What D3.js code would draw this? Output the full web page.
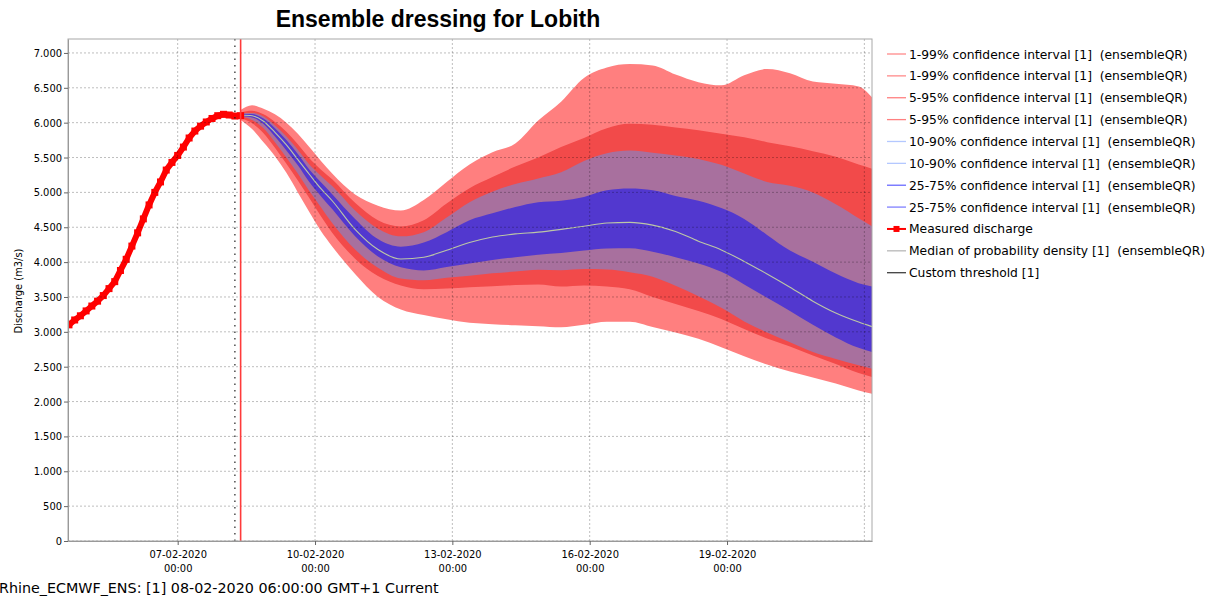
<!DOCTYPE html>
<html><head><meta charset="utf-8">
<script src="https://cdn.jsdelivr.net/npm/d3@7"></script>
<style>
body{margin:0;background:#fff;overflow:hidden;}
svg{display:block;}
text{font-family:"DejaVu Sans Condensed","DejaVu Sans",sans-serif;fill:#000;}
</style></head><body>
<svg id="c" width="1210" height="599"></svg>
<script>
// ---------- DATA ----------
const titleText = "Ensemble dressing for Lobith";
const yAxisLabel = "Discharge (m3/s)";
const footerText = "Rhine_ECMWF_ENS: [1] 08-02-2020 06:00:00 GMT+1 Current";
const yTickValues = [0,500,1000,1500,2000,2500,3000,3500,4000,4500,5000,5500,6000,6500,7000];
const xTickDays = ["2020-02-07","2020-02-10","2020-02-13","2020-02-16","2020-02-19"];
const xGridDays = ["2020-02-07","2020-02-10","2020-02-13","2020-02-16","2020-02-19","2020-02-22"];

// hours relative to forecast start 08-02-2020 09:00
const measuredHours = [-90,-87,-84,-81,-78,-75,-72,-69,-66,-63,-60,-57,-54,-51,-48,-45,-42,-39,-36,-33,-30,-27,-24,-21,-18,-15,-12,-9,-6,-3,0];
const measured = [3100,3170,3230,3300,3370,3440,3520,3620,3720,3880,4040,4230,4420,4620,4820,5000,5150,5320,5430,5530,5650,5780,5880,5950,6010,6060,6100,6120,6110,6095,6100];

const fcHours = [0,6,12,18,24,30,36,42,48,60,72,84,96,108,120,132,144,156,168,180,192,204,216,228,240,252,264,276,288,300,312,324,331];
const q99 = [6180,6250,6200,6120,6000,5840,5650,5455,5270,4970,4810,4740,4890,5150,5400,5575,5700,6030,6300,6640,6790,6840,6820,6690,6580,6535,6680,6770,6710,6590,6558,6520,6365];
const q95 = [6150,6170,6120,6010,5870,5690,5490,5330,5190,4850,4600,4510,4600,4840,5060,5220,5370,5500,5650,5780,5920,5985,5970,5930,5890,5840,5790,5720,5660,5590,5510,5400,5340];
const q90 = [6135,6140,6090,5960,5800,5610,5400,5240,5090,4740,4480,4370,4430,4640,4860,5010,5120,5200,5290,5450,5560,5600,5570,5530,5480,5395,5270,5150,5095,5000,4830,4630,4514];
const q75 = [6125,6125,6060,5920,5750,5550,5330,5150,4975,4620,4330,4220,4280,4430,4600,4700,4790,4860,4880,4935,5030,5055,5030,4950,4880,4775,4620,4390,4165,4005,3835,3697,3649];
const q50 = [6110,6100,6020,5860,5680,5470,5260,5057,4880,4470,4180,4045,4070,4170,4280,4360,4405,4430,4470,4515,4560,4570,4530,4440,4300,4175,4010,3830,3640,3440,3270,3140,3075];
const q25 = [6095,6075,5980,5800,5600,5390,5150,4950,4760,4370,4080,3925,3880,3930,3980,4030,4070,4105,4130,4165,4195,4200,4150,4070,3980,3860,3680,3490,3300,3100,2920,2770,2711];
const q10 = [6085,6040,5920,5720,5500,5270,5020,4790,4560,4180,3920,3765,3740,3775,3805,3840,3865,3890,3885,3900,3895,3855,3790,3660,3510,3345,3150,2990,2850,2710,2610,2520,2471];
const q5  = [6070,5990,5850,5640,5410,5170,4920,4660,4420,4050,3800,3665,3610,3620,3640,3655,3670,3680,3650,3665,3650,3610,3500,3400,3300,3185,3040,2905,2790,2660,2540,2410,2352];
const q1  = [6040,5910,5720,5520,5280,5000,4720,4450,4225,3830,3500,3320,3240,3180,3130,3110,3095,3080,3065,3100,3145,3145,3070,2990,2900,2780,2650,2530,2430,2345,2260,2160,2112];

const legendLabels = [
  "1-99% confidence interval [1]  (ensembleQR)",
  "1-99% confidence interval [1]  (ensembleQR)",
  "5-95% confidence interval [1]  (ensembleQR)",
  "5-95% confidence interval [1]  (ensembleQR)",
  "10-90% confidence interval [1]  (ensembleQR)",
  "10-90% confidence interval [1]  (ensembleQR)",
  "25-75% confidence interval [1]  (ensembleQR)",
  "25-75% confidence interval [1]  (ensembleQR)",
  "Measured discharge",
  "Median of probability density [1]  (ensembleQR)",
  "Custom threshold [1]"];
const legendColors = ["#ff8a8a","#ff8a8a","#ff8080","#ff8080","#b4c8ff","#b4c8ff","#6a6aff","#8080ff","#ff0000","#b8b8b8","#404040"];

// ---------- CHART ----------
const svg = d3.select("#c");
const L = 68, R = 872, T = 39, B = 541;
const T0 = new Date(2020,1,8,9,0);
const toDate = h => new Date(T0.getTime() + h*3600e3);
const parseDay = s => { const p = s.split("-").map(Number); return new Date(p[0], p[1]-1, p[2]); };

const x = d3.scaleTime().domain([new Date(2020,1,4,14,30), new Date(2020,1,22,4,0)]).range([L, R]);
const y = d3.scaleLinear().domain([0,7200]).range([B, T]);

const loc = d3.formatLocale({decimal:",", thousands:".", grouping:[3], currency:["","€"]});
const fmt = loc.format(",");

svg.append("defs").append("clipPath").attr("id","clip")
  .append("rect").attr("x",L).attr("y",T).attr("width",R-L).attr("height",B-T);

const plot = svg.append("g").attr("clip-path","url(#clip)");

// bands
const bands = [
  {lo:q1, hi:q99, color:"#ff7f7f"},
  {lo:q5, hi:q95, color:"#f24a4a"},
  {lo:q10, hi:q90, color:"#a8709e"},
  {lo:q25, hi:q75, color:"#5238cf"}];
bands.forEach(b => {
  const area = d3.area()
    .x((d,i) => x(toDate(fcHours[i])))
    .y0((d,i) => y(b.lo[i]))
    .y1((d,i) => y(b.hi[i]))
    .curve(d3.curveMonotoneX);
  plot.append("path").datum(fcHours).attr("d", area).attr("fill", b.color);
});
// median
plot.append("path").datum(q50)
  .attr("d", d3.line().x((d,i)=>x(toDate(fcHours[i]))).y(d=>y(d)).curve(d3.curveMonotoneX))
  .attr("fill","none").attr("stroke","#bcc6a6").attr("stroke-width",1.1);

// grid lines (on top, translucent)
const grid = svg.append("g");
grid.selectAll("line.h").data(yTickValues).join("line")
  .attr("x1",L).attr("x2",R).attr("y1",d=>y(d)).attr("y2",d=>y(d))
  .attr("stroke","rgba(0,0,0,0.26)").attr("stroke-dasharray","2,2");
grid.selectAll("line.v").data(xGridDays).join("line")
  .attr("x1",d=>x(parseDay(d))).attr("x2",d=>x(parseDay(d))).attr("y1",T).attr("y2",B)
  .attr("stroke","rgba(0,0,0,0.26)").attr("stroke-dasharray","2,2");

// forecast time markers
const tDot = toDate(-3);
svg.append("line").attr("x1",x(tDot)).attr("x2",x(tDot)).attr("y1",T).attr("y2",B)
  .attr("stroke","#222").attr("stroke-width",1.2).attr("stroke-dasharray","1.5,5");

// measured discharge
const mline = d3.line().x((d,i)=>x(toDate(measuredHours[i]))).y(d=>y(d));
plot.append("path").datum(measured).attr("d", mline)
  .attr("fill","none").attr("stroke","#ff0000").attr("stroke-width",6).attr("stroke-linejoin","round");
plot.selectAll("rect.m").data(measured).join("rect")
  .attr("x",(d,i)=>x(toDate(measuredHours[i]))-3.5).attr("y",d=>y(d)-3.5)
  .attr("width",7).attr("height",7).attr("fill","#ff0000");

svg.append("line").attr("x1",x(T0)).attr("x2",x(T0)).attr("y1",T).attr("y2",B)
  .attr("stroke","#ff3b3b").attr("stroke-width",1.6);

// frame
svg.append("rect").attr("x",L).attr("y",T).attr("width",R-L).attr("height",B-T)
  .attr("fill","none").attr("stroke","#a8a8a8").attr("stroke-width",1);

// axes
const yAxis = svg.append("g").attr("transform",`translate(${L},0)`)
  .call(d3.axisLeft(y).tickValues(yTickValues).tickFormat(fmt).tickSize(4).tickSizeOuter(0));
yAxis.select(".domain").attr("stroke","#999");
yAxis.selectAll(".tick line").attr("stroke","#666");
yAxis.selectAll(".tick text").attr("font-size","11px").attr("fill","#222").attr("x",-6);

const xAxis = svg.append("g").attr("transform",`translate(0,${B})`)
  .call(d3.axisBottom(x).tickValues(xTickDays.map(parseDay)).tickFormat("").tickSize(4).tickSizeOuter(0));
xAxis.select(".domain").attr("stroke","#999");
xAxis.selectAll(".tick line").attr("stroke","#666");
xAxis.selectAll(".tick").append("text").attr("y",17).attr("text-anchor","middle")
  .attr("font-size","11px").attr("fill","#222").text(d=>d3.timeFormat("%d-%m-%Y")(d));
xAxis.selectAll(".tick").append("text").attr("y",31).attr("text-anchor","middle")
  .attr("font-size","11px").attr("fill","#222").text(d=>d3.timeFormat("%H:%M")(d));

// axis title
svg.append("text").attr("transform",`translate(22,${(T+B)/2+1}) rotate(-90)`)
  .attr("text-anchor","middle").attr("font-size","11px").attr("fill","#222").text(yAxisLabel);

// title
svg.append("text").attr("x",438).attr("y",27).attr("text-anchor","middle")
  .style("font-family","'Liberation Sans', Arial, sans-serif").style("font-weight","bold")
  .style("font-size","23px").text(titleText);

// footer
svg.append("text").attr("x",-1).attr("y",593)
  .style("font-family","'DejaVu Sans', sans-serif").style("font-size","14.3px").attr("fill","#111").text(footerText);

// legend
const lg = svg.append("g");
const lgItems = lg.selectAll("g").data(legendLabels).join("g")
  .attr("transform",(d,i)=>`translate(887,${54 + i*21.87})`);
lgItems.append("line").attr("x1",0).attr("x2",19).attr("y1",0).attr("y2",0)
  .attr("stroke",(d,i)=>legendColors[i]).attr("stroke-width",(d,i)=> i===8 ? 2 : 1.3);
lgItems.filter((d,i)=>i===8).append("rect").attr("x",6.5).attr("y",-3).attr("width",6).attr("height",6).attr("fill","#ff0000");
lgItems.append("text").attr("x",22).attr("y",4.5)
  .style("font-family","'DejaVu Sans', sans-serif").style("font-size","12.3px").attr("fill","#111")
  .style("white-space","pre").text(d=>d);
</script>
</body></html>
